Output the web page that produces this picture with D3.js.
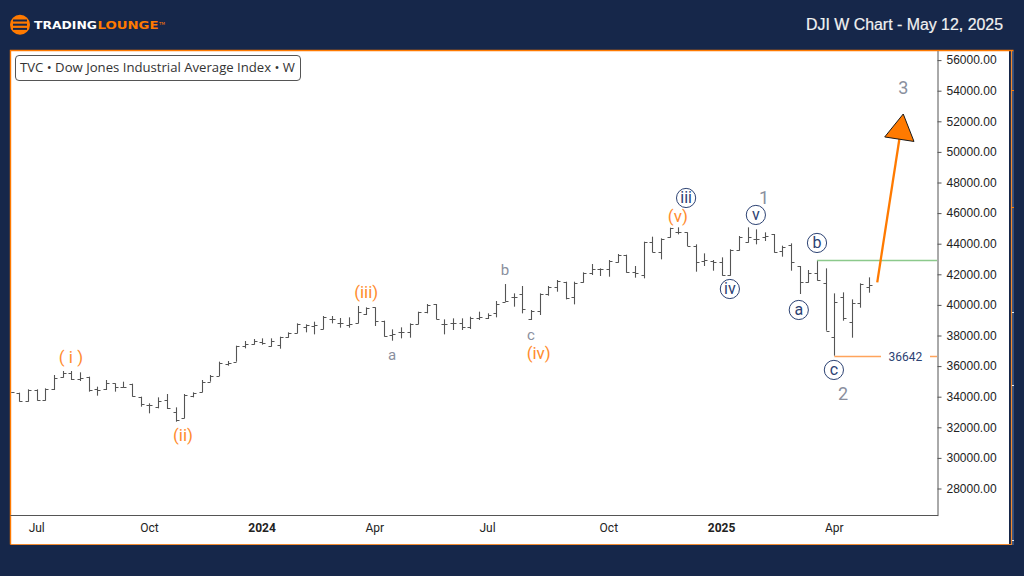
<!DOCTYPE html>
<html><head><meta charset="utf-8">
<script src="https://cdn.jsdelivr.net/npm/d3@7/dist/d3.min.js"></script>
<style>html,body{margin:0;padding:0;background:#16274a;overflow:hidden}svg{display:block}</style>
</head><body><svg id="c" width="1024" height="576"></svg>
<script>
const opens=[34250,34224,33701,34399,33745,34442,35270,35488,35118,35270,34464,34464,34834,34616,34769,33919,33418,33265,33745,32938,32546,34006,34246,34943,35335,36098,36249,37295,37404,37513,37295,37317,37884,38102,38537,38581,38385,39039,38755,38646,38799,39344,39801,38886,37993,38167,38210,38733,39518,40019,38690,38755,38755,38537,39126,39126,39409,40171,40498,40672,39037,39560,40650,41151,41478,40497,41456,42023,42284,42284,42785,43243,42132,41914,44049,43439,44376,44703,44703,43831,42829,42829,42785,41914,43548,44093,44245,44420,44572,43483,43875,42502,41456,42066,41369,37839,40497,38863,40105,41151];
const highs=[34250,34224,34442,34442,34507,35379,35640,35640,35553,35270,34616,35052,34834,34943,34813,33963,33527,33919,34137,33265,34137,34246,35052,35379,36251,36294,37295,37600,37731,37775,37775,37884,38167,38755,38690,38864,39235,39235,39104,39148,39888,39801,39801,38930,38363,38494,38755,39518,40019,40019,39017,39082,39082,39191,39518,39409,40215,41325,40715,41195,39626,40715,41195,41587,41478,41478,42088,42633,42350,42894,43287,43243,42502,44093,44420,44311,45008,45030,44703,43919,43330,42894,43069,43592,44463,45030,44899,44703,44594,43831,43984,42502,42241,42894,42350,40715,40781,40323,41369,41761];
const lows=[34250,33636,33636,33701,33701,34399,35205,35052,34987,34290,34028,34399,34290,34551,33963,33309,32873,33200,33156,32328,32546,33919,34246,34943,35314,35989,36249,37121,37361,37361,37230,37099,37818,38102,38167,38036,38363,38755,38472,38472,38755,39300,38581,37884,37622,37775,37818,38690,39409,39017,38036,38319,38319,38385,38973,39039,39148,40171,39844,39408,38972,39299,40563,40824,40323,39996,41413,41914,41848,41805,42720,42066,41740,41696,43396,42938,44354,44572,43810,42132,42502,42197,41870,41870,43505,44027,43919,44136,43374,43112,42197,40672,41413,41543,38275,36641,38929,37817,39778,40759];
const closes=[34250,33679,34399,33745,34464,35161,35488,35096,35161,34399,34399,34878,34616,34616,34006,33461,33418,33701,33200,32437,34072,34181,34943,35335,36185,36185,37274,37382,37622,37491,37622,37840,38102,38690,38625,38625,39148,39039,38755,38690,39474,39779,38908,37949,38036,38210,38690,39474,39954,39017,38690,38755,38537,39082,39191,39300,40019,40236,40498,39669,39560,40672,41129,41522,40388,41369,42023,42284,42284,42829,43243,42110,42023,44049,43439,44267,44964,44703,43831,42785,42894,42785,41914,43548,44376,44420,44245,44485,43417,43766,42785,41434,42023,41587,38275,40171,39081,40062,41326,41238];
const priceTicks=[28000,30000,32000,34000,36000,38000,40000,42000,44000,46000,48000,50000,52000,54000,56000];
const timeTickBars=[3,16,29,42,55,69,82,95];
const timeTickLabels=["Jul","Oct","2024","Apr","Jul","Oct","2025","Apr"];
const orangeLabels=[["( i )",6.94,36560],["(ii)",19.86,31460],["(iii)",41,40800],["(iv)",60.9,36780],["(v)",76.95,45770]];
const greyLabels=[["a",43.97,36690,15],["b",57,42240,15],["c",60,38000,15],["1",86.9,47010,18],["2",96,34200,18],["3",102.95,54200,18]];
const navyLabels=[["iii",77.9,46950],["v",85.95,45840],["iv",82.95,41000],["b",93,44010],["a",90.9,39630],["c",94.95,35710]];
const resistance=[93,42894], support=[95,36642], arrowFrom=[99.95,41438], arrowTo=[102.95,52438];
const levelLabel="36642";

const svg=d3.select("#c");
const W=1024,H=576;
const NAVY="#16274a",ORANGE="#ff7a00",BAR="#555555";
svg.append("rect").attr("width",W).attr("height",H).attr("fill",NAVY);

// frame
svg.append("rect").attr("x",11).attr("y",51).attr("width",998).attr("height",493).attr("fill","#fff");
svg.append("rect").attr("x",1012).attr("y",51).attr("width",2).attr("height",494).attr("fill","#34507f");
const frame=svg.append("g").attr("stroke",ORANGE).attr("fill","none").attr("stroke-width",1.4);
frame.append("path").attr("d","M10.5,544.5V50.5H1013.5");
svg.append("path").attr("d","M10.5,544.5H1011.5V50.5").attr("fill","none").attr("stroke","#f08a30").attr("stroke-width",1.2);
[90,207].forEach(v=>svg.append("rect").attr("x",1012).attr("y",v).attr("width",2).attr("height",1).attr("fill",ORANGE));
[312,385,540].forEach(v=>svg.append("rect").attr("x",1012).attr("y",v).attr("width",2).attr("height",1).attr("fill","#e8edf5"));

// scales
const x=d3.scaleLinear().domain([0,99]).range([10.8,869]);
const y=d3.scaleLinear().domain([26229,56621]).range([515,50]);

// axes
const yAxis=d3.axisRight(y).tickValues(priceTicks).tickFormat(d3.format(".2f")).tickSize(4).tickPadding(5).tickSizeOuter(0);
const gy=svg.append("g").attr("transform","translate(937.5,0.6)").call(yAxis);
gy.select(".domain").attr("stroke",BAR);
gy.selectAll("line").attr("stroke",BAR);
gy.selectAll("text").attr("font-family","'Liberation Sans',Arial,sans-serif").attr("font-size",12).attr("fill","#222");

const xAxis=d3.axisBottom(x).tickValues(timeTickBars).tickFormat((d,i)=>timeTickLabels[i]).tickSize(0).tickPadding(8).tickSizeOuter(0);
const gx=svg.append("g").attr("transform","translate(-0.6,515.5)").call(xAxis);
gx.select(".domain").attr("d","M11,0H938.6").attr("stroke",BAR);
gx.selectAll("text").attr("font-family","Roboto,sans-serif").attr("font-size",12).attr("fill","#222")
  .attr("font-weight",(d,i)=>/^\d+$/.test(timeTickLabels[i])?700:400);

// bars
svg.append("clipPath").attr("id","plot").append("rect").attr("x",11).attr("y",51).attr("width",926).attr("height",464);
const plot=svg.append("g").attr("clip-path","url(#plot)");
const px=i=>Math.round(x(i))+0.5, py=v=>Math.round(y(v))+0.5;
const bars=plot.selectAll("g.bar").data(d3.range(opens.length)).join("g").attr("class","bar")
  .attr("stroke",BAR).attr("stroke-width",1);
bars.append("line").attr("x1",px).attr("x2",px).attr("y1",i=>y(highs[i])).attr("y2",i=>y(lows[i])).attr("stroke-width",1.1);
bars.append("line").attr("x1",i=>px(i)-3).attr("x2",px).attr("y1",i=>py(opens[i])).attr("y2",i=>py(opens[i]));
bars.append("line").attr("x1",px).attr("x2",i=>px(i)+3).attr("y1",i=>py(closes[i])).attr("y2",i=>py(closes[i]));

// levels
plot.append("line").attr("x1",x(resistance[0])).attr("x2",938).attr("y1",py(resistance[1])).attr("y2",py(resistance[1]))
  .attr("stroke","#8cc98c").attr("stroke-width",1.3);
plot.append("line").attr("x1",x(support[0])).attr("x2",938).attr("y1",py(support[1])).attr("y2",py(support[1]))
  .attr("stroke","#ffa45c").attr("stroke-width",1.3);
svg.append("rect").attr("x",881).attr("y",py(support[1])-7).attr("width",49).attr("height",14).attr("fill","#fff");
svg.append("text").attr("x",x(103.2)).attr("y",py(support[1])+4).attr("text-anchor","middle")
  .attr("font-family","Roboto,sans-serif").attr("font-size",12).attr("fill","#2c4273").text(levelLabel);

// arrow
const [ax0,ay0,ax1,ay1]=[x(arrowFrom[0]),y(arrowFrom[1]),x(arrowTo[0]),y(arrowTo[1])];
const ang=Math.atan2(ay1-ay0,ax1-ax0), hl=25.5, hw=14.8;
const bx=ax1-hl*Math.cos(ang), by=ay1-hl*Math.sin(ang);
svg.append("line").attr("x1",ax0).attr("y1",ay0).attr("x2",bx).attr("y2",by).attr("stroke",ORANGE).attr("stroke-width",2.3);
svg.append("path").attr("d",d3.line()([[ax1,ay1],[bx-hw*Math.sin(ang),by+hw*Math.cos(ang)],[bx+hw*Math.sin(ang),by-hw*Math.cos(ang)]])+"Z")
  .attr("fill",ORANGE).attr("stroke","#1a1a1a").attr("stroke-width",1);

// wave labels
const lab=svg.append("g").attr("font-family","Roboto,sans-serif").attr("text-anchor","middle");
lab.selectAll("text.o").data(orangeLabels).join("text").attr("class","o")
  .attr("x",d=>x(d[1])).attr("y",d=>y(d[2])+5.8).attr("font-size",17).attr("fill","#ff8c2e").text(d=>d[0]);
lab.selectAll("text.g").data(greyLabels).join("text").attr("class","g")
  .attr("x",d=>x(d[1])).attr("y",d=>y(d[2])+d[3]*0.36).attr("font-size",d=>d[3]).attr("fill","#8a8f9e").text(d=>d[0]);
const nv=lab.selectAll("g.n").data(navyLabels).join("g").attr("class","n")
  .attr("transform",d=>`translate(${x(d[1])},${y(d[2])})`);
nv.append("circle").attr("r",9.6).attr("fill","#fff").attr("stroke","#2c4273").attr("stroke-width",1);
nv.append("text").attr("y",5.4).attr("font-size",16).attr("fill","#2c4273").text(d=>d[0]);

// legend
svg.append("rect").attr("x",15.5).attr("y",55.5).attr("width",285).attr("height",25).attr("rx",3.5)
  .attr("fill","#fff").attr("stroke","#555").attr("stroke-width",1);
svg.append("text").attr("x",20).attr("y",72).attr("font-family","'Open Sans',sans-serif").attr("font-size",12.5).attr("fill","#333")
  .attr("textLength",275).attr("lengthAdjust","spacingAndGlyphs").text("TVC • Dow Jones Industrial Average Index • W");

// header
svg.append("text").attr("x",1003).attr("y",29.5).attr("text-anchor","end").attr("font-family","'Liberation Sans',Arial,sans-serif")
  .attr("font-size",16).attr("fill","#f2f2f2").attr("stroke","#f2f2f2").attr("stroke-width",0.2).attr("textLength",197).attr("lengthAdjust","spacingAndGlyphs").text("DJI W Chart - May 12, 2025");

// logo
const logo=svg.append("g").attr("transform","translate(20,24.7)");
logo.append("circle").attr("r",10).attr("fill",ORANGE);
[-4.2,0,4.2].forEach(v=>logo.append("rect").attr("x",-7).attr("y",v-1).attr("width",14).attr("height",2).attr("fill",NAVY));
svg.append("text").attr("x",34).attr("y",29).attr("font-family","'DejaVu Sans',sans-serif").attr("font-weight",700).attr("font-size",10)
  .attr("fill","#fff").attr("textLength",63).attr("lengthAdjust","spacingAndGlyphs").text("TRADING");
svg.append("text").attr("x",97.5).attr("y",29).attr("font-family","'DejaVu Sans',sans-serif").attr("font-weight",700).attr("font-size",10)
  .attr("fill",ORANGE).attr("textLength",61).attr("lengthAdjust","spacingAndGlyphs").text("LOUNGE");
svg.append("text").attr("x",159).attr("y",24.5).attr("font-family","'DejaVu Sans',sans-serif").attr("font-size",4)
  .attr("fill",ORANGE).text("TM");
</script></body></html>
